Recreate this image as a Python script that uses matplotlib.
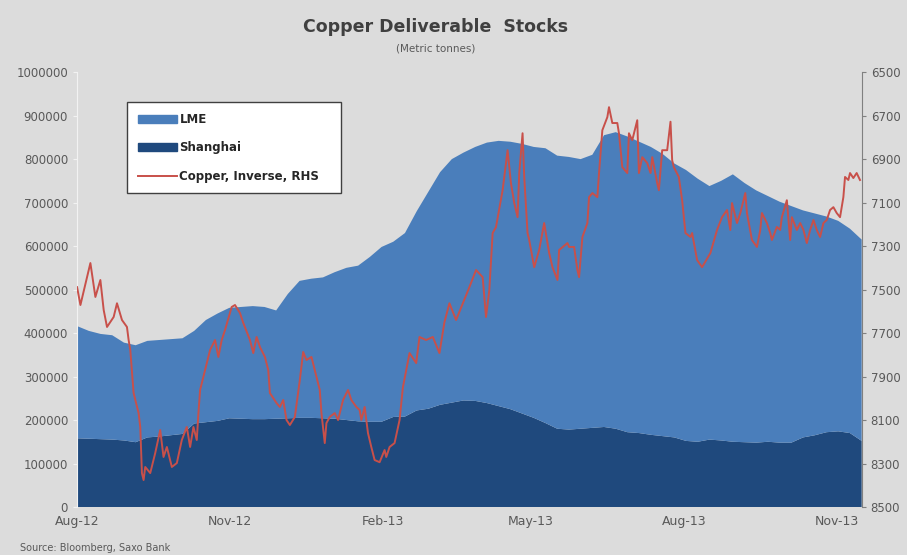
import pandas as pd
import matplotlib
matplotlib.use("Agg")
import matplotlib.pyplot as plt
import matplotlib.dates as mdates
from matplotlib.patches import Patch
from matplotlib.lines import Line2D

# weekly deliverable stocks (tonnes), Aug-12 .. mid Nov-13
lme_stocks = [258000, 248000, 242000, 240000, 225000, 223000, 222000, 222000, 221000, 220000,
              213000, 235000, 247000, 254000, 257000, 260000, 258000, 249000, 286000, 315000,
              320000, 324000, 337000, 350000, 358000, 379000, 402000, 403000, 422000, 458000,
              499000, 535000, 560000, 570000, 584000, 599000, 610000, 615000, 620000, 623000,
              632000, 628000, 627000, 620000, 628000, 671000, 682000, 680000, 670000, 662000,
              649000, 630000, 623000, 605000, 583000, 597000, 615000, 596000, 580000, 565000,
              554000, 544000, 522000, 510000, 496000, 484000, 470000, 463000]
shanghai_stocks = [158000, 157000, 156000, 155000, 153000, 149000, 160000, 162000, 165000, 168000,
                   192000, 195000, 198000, 204000, 203000, 202000, 202000, 203000, 204000, 205000,
                   205000, 204000, 203000, 200000, 197000, 196000, 196000, 207000, 208000, 222000,
                   226000, 235000, 240000, 245000, 244000, 239000, 232000, 225000, 215000, 205000,
                   193000, 180000, 178000, 180000, 182000, 184000, 180000, 172000, 170000, 166000,
                   163000, 160000, 152000, 150000, 155000, 153000, 150000, 149000, 148000, 150000,
                   148000, 148000, 160000, 165000, 172000, 174000, 170000, 152000]

# copper price, days after 2012-08-01
copper_day = [0, 2, 8, 11, 14, 16, 18, 22, 24, 27, 30, 31, 32, 34, 37, 38, 39, 40, 41, 44,
              47, 50, 52, 54, 57, 60, 63, 66, 68, 70, 72, 73, 74, 77, 80, 83, 85, 87, 89, 93,
              95, 98, 100, 104, 106, 108, 110, 113, 115, 116, 120, 122, 124, 126, 128, 131, 134, 136, 138, 141,
              144, 146, 147, 149, 150, 152, 155, 157, 160, 163, 165, 168, 170, 171, 173, 175, 177, 179, 182, 185,
              186, 188, 191, 194, 196, 200, 204, 206, 210, 214, 218, 221, 224, 228, 236, 240, 244, 246, 248, 250,
              252, 256, 259, 261, 263, 265, 266, 268, 269, 271, 272, 275, 278, 281, 284, 286, 289, 290, 295, 296,
              299, 301, 302, 304, 307, 308, 310, 313, 314, 316, 319, 320, 322, 325, 326, 328, 331, 332, 334, 337,
              338, 340, 343, 345, 346, 349, 350, 352, 355, 357, 358, 359, 362, 364, 366, 369, 370, 373, 376, 381,
              385, 388, 391, 393, 394, 397, 399, 402, 403, 406, 409, 411, 412, 415, 417, 418, 421, 423, 424, 427,
              429, 430, 433, 435, 437, 439, 441, 443, 445, 447, 449, 451, 453, 455, 457, 459, 461, 462, 464, 465,
              467, 469, 471]
copper_price = [7489, 7571, 7378, 7534, 7456, 7594, 7672, 7626, 7563, 7640, 7672, 7732, 7778, 7976, 8068, 8132, 8344, 8376, 8316, 8344,
                8252, 8146, 8270, 8224, 8316, 8298, 8192, 8132, 8224, 8132, 8192, 8068, 7962, 7870, 7778, 7732, 7810, 7732, 7686, 7580,
                7571, 7608, 7654, 7732, 7792, 7718, 7764, 7810, 7870, 7976, 8022, 8040, 8008, 8100, 8123, 8086, 7916, 7787, 7824, 7810,
                7902, 7962, 8068, 8206, 8114, 8086, 8068, 8100, 8008, 7962, 8008, 8040, 8054, 8100, 8040, 8160, 8224, 8284, 8294, 8238,
                8270, 8224, 8206, 8100, 7950, 7792, 7838, 7718, 7732, 7718, 7792, 7650, 7563, 7640, 7489, 7410, 7443, 7626, 7502, 7240,
                7213, 7043, 6859, 7010, 7102, 7167, 6964, 6781, 6982, 7240, 7272, 7397, 7318, 7194, 7332, 7397, 7456, 7318, 7286, 7304,
                7304, 7410, 7443, 7258, 7194, 7075, 7056, 7075, 6964, 6767, 6707, 6661, 6734, 6734, 6781, 6937, 6964, 6781, 6813, 6721,
                6964, 6891, 6918, 6964, 6891, 7010, 7043, 6859, 6859, 6728, 6905, 6937, 6982, 7089, 7240, 7258, 7240, 7364, 7397, 7332,
                7226, 7167, 7134, 7226, 7102, 7194, 7148, 7056, 7148, 7272, 7304, 7226, 7148, 7194, 7240, 7272, 7212, 7226, 7167, 7089,
                7272, 7167, 7226, 7194, 7226, 7286, 7226, 7180, 7226, 7258, 7194, 7180, 7134, 7121, 7148, 7167, 7075, 6982, 6996, 6964,
                6987, 6964, 6996]

start = pd.Timestamp("2012-08-01")
end = pd.Timestamp("2013-11-16")
stock_dates = pd.date_range(start, "2013-11-16", periods=len(lme_stocks))
copper_dates = start + pd.to_timedelta(copper_day, unit="D")

bg = "#DCDCDC"
lme_col = "#4A7EBB"
sh_col = "#1F497D"
red = "#C8504A"
txt = "#595959"

fig = plt.figure(figsize=(9.07, 5.55), dpi=100, facecolor=bg)
ax = fig.add_axes([0.085, 0.0865, 0.865, 0.7835], facecolor=bg)

ax.stackplot(stock_dates, shanghai_stocks, lme_stocks, colors=[sh_col, lme_col], linewidth=0)
ax.set_xlim(start, end)
ax.set_ylim(0, 1000000)
ax.set_yticks(range(0, 1000001, 100000))
ax.set_yticklabels([str(v) for v in range(0, 1000001, 100000)])

ax2 = ax.twinx()
ax2.plot(copper_dates, copper_price, color=red, linewidth=1.4)
ax2.set_ylim(8500, 6500)
ax2.set_yticks(range(6500, 8501, 200))

ax.xaxis.set_major_locator(mdates.MonthLocator(bymonth=[2, 5, 8, 11]))
ax.xaxis.set_major_formatter(mdates.DateFormatter("%b-%y"))

for a in (ax, ax2):
    for s in a.spines.values():
        s.set_visible(False)
    a.tick_params(labelsize=8.5, colors=txt, length=3, width=0.8)
ax.spines["left"].set_visible(True)
ax.spines["left"].set_color("#F2F2F2")
ax2.spines["right"].set_visible(True)
ax2.spines["right"].set_color("#808080")
ax.tick_params(axis="y", color="#F2F2F2")
ax2.tick_params(axis="y", color="#808080")
ax.tick_params(axis="x", length=0, pad=6, labelsize=9)

fig.text(0.48, 0.942, "Copper Deliverable  Stocks", ha="center", fontsize=12.5,
         fontweight="bold", color="#404040")
fig.text(0.48, 0.907, "(Metric tonnes)", ha="center", fontsize=7.5, color=txt)
fig.text(0.022, 0.008, "Source: Bloomberg, Saxo Bank", fontsize=7, color=txt)

handles = [Patch(color=lme_col), Patch(color=sh_col), Line2D([], [], color=red, linewidth=1.4)]
labels = ["LME", "Shanghai", "Copper, Inverse, RHS"]
leg = ax2.legend(handles, labels, loc="upper left", bbox_to_anchor=(0.134, 0.66, 0.248, 0.166),
                 bbox_transform=fig.transFigure, mode="expand", fancybox=False, framealpha=1,
                 edgecolor="#404040", labelspacing=1.3, handlelength=3.3, handletextpad=0.2,
                 borderpad=0.9, fontsize=8.5)
leg.get_frame().set_linewidth(1.0)
for t in leg.get_texts():
    t.set_color("#262626")
    t.set_fontweight("bold")

fig.savefig("out.png", dpi=100, facecolor=bg)
